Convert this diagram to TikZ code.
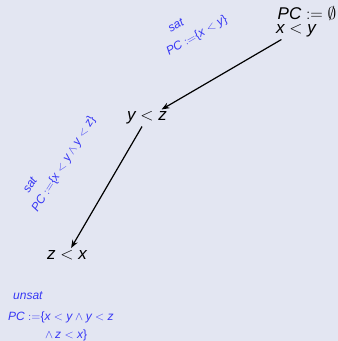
\documentclass[tikz,border=0pt]{standalone}
\usepackage{fontspec}
\setmainfont{Liberation Sans}
\usetikzlibrary{arrows.meta}
\definecolor{bgcol}{RGB}{227,230,242}
\definecolor{labblue}{RGB}{55,55,245}
\newcommand{\mv}[1]{\textit{#1}}
\tikzset{
  state/.style={font=\fontsize{17}{20}\selectfont, inner sep=2pt},
  lab/.style={font=\fontsize{12}{18}\selectfont, text=labblue, inner sep=0pt},
  trans/.style={-{Stealth[length=8pt,width=6pt]}, line width=1.2pt},
}
\begin{document}
\begin{tikzpicture}[x=1pt,y=-1pt]
\fill[bgcol] (0,0) rectangle (338,341);
\useasboundingbox (0,0) rectangle (338,341);
% states
\node[state] (pc0) at (307,13) {$\mv{PC} := \emptyset$};
\node[state] (xy) at (296,31) {$\mv{x} < \mv{y}$};
\node[state] (yz) at (147,118) {$\mv{y} < \mv{z}$};
\node[state] (zx) at (67,255) {$\mv{z} < \mv{x}$};
\draw[trans] (xy) -- (yz);
\draw[trans] (yz) -- (zx);
% path conditions
\node[lab, rotate=30] (sat1) at (176,25) {\textit{sat}};
\node[lab, rotate=30] (pc1) at (197,36) {$\mv{PC} :=$\{$\mv{x} < \mv{y}$\}};
\node[lab, rotate=58] (sat2) at (30,185) {\textit{sat}};
\node[lab, rotate=58] (pc2) at (64,164) {$\mv{PC} :=$\{$\mv{x} < \mv{y} \wedge \mv{y} < \mv{z}$\}};
\node[lab, anchor=base west] (unsat3) at (13,299) {\textit{unsat}};
\node[lab, anchor=north west, align=left] (pc3) at (8,312)
  {$\mv{PC} :=$\{$\mv{x} < \mv{y} \wedge \mv{y} < \mv{z}$\\
   \hspace*{37pt}$\wedge\, \mv{z} < \mv{x}$\}};
\end{tikzpicture}
\end{document}
